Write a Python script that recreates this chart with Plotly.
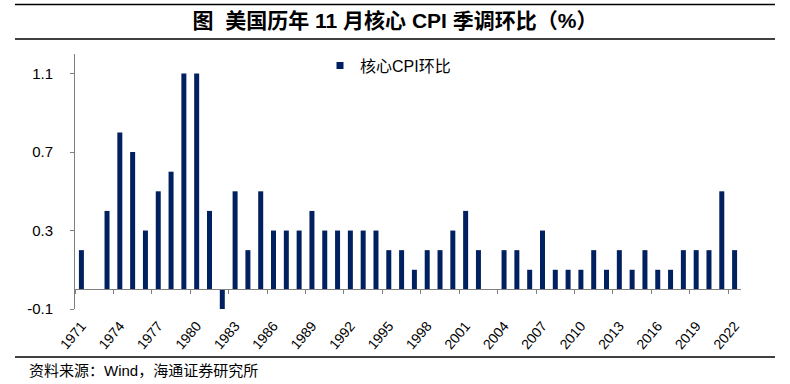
import plotly.graph_objects as go

# ---- data ----
years = list(range(1971, 2023))
core_cpi_mom = [
    0.2, 0.0, 0.4, 0.8, 0.7, 0.3, 0.5, 0.6, 1.1, 1.1,   # 1971-1980
    0.4, -0.1, 0.5, 0.2, 0.5, 0.3, 0.3, 0.3, 0.4, 0.3,  # 1981-1990
    0.3, 0.3, 0.3, 0.3, 0.2, 0.2, 0.1, 0.2, 0.2, 0.3,   # 1991-2000
    0.4, 0.2, 0.0, 0.2, 0.2, 0.1, 0.3, 0.1, 0.1, 0.1,   # 2001-2010
    0.2, 0.1, 0.2, 0.1, 0.2, 0.1, 0.1, 0.2, 0.2, 0.2,   # 2011-2020
    0.5, 0.2,                                           # 2021-2022
]
tick_years = years[::3]
tick_labels = [str(y) for y in tick_years]
y_ticks = [-0.1, 0.3, 0.7, 1.1]
series_name = "核心CPI环比"
title_text = "图\u00a0\u00a0美国历年\u00a011\u00a0月核心\u00a0CPI\u00a0季调环比（%）"
source_text = "资料来源：Wind，海通证券研究所"

# ---- layout geometry ----
W, H = 790, 384
ML, MR, MT, MB = 75, 49, 54, 75
PW, PH = W - ML - MR, H - MT - MB
Y_RANGE = [-0.1, 1.2]

def px_x(x):
    return (x - ML) / PW

def px_y(y):
    return (H - MB - y) / PH

NAVY = "#002060"
GREY = "#808080"
FONT = "Liberation Sans, Arial, Noto Sans CJK SC"

fig = go.Figure()
fig.add_trace(go.Bar(
    x=years, y=core_cpi_mom, name=series_name,
    marker=dict(color=NAVY, line=dict(width=0)),
    width=0.39, showlegend=False,
))
# legend entry (small square)
fig.add_trace(go.Scatter(
    x=[None], y=[None], mode="markers", name=series_name,
    marker=dict(symbol="square", size=7, color=NAVY),
    showlegend=True,
))
# carrier for the zero-crossing axis
fig.add_trace(go.Scatter(x=[], y=[], xaxis="x2", yaxis="y",
                         showlegend=False, hoverinfo="skip"))

zero_pos = (0 - Y_RANGE[0]) / (Y_RANGE[1] - Y_RANGE[0])

fig.update_layout(
    width=W, height=H,
    margin=dict(l=ML, r=MR, t=MT, b=MB, pad=0, autoexpand=False),
    paper_bgcolor="white", plot_bgcolor="white",
    font=dict(family=FONT, color="#000000"),
    title=dict(
        text="<b>" + title_text + "</b>",
        x=0.5, xref="container", xanchor="center",
        y=1 - 21 / H, yref="container", yanchor="middle",
        font=dict(size=21, family=FONT, color="#000"),
        automargin=False,
    ),
    showlegend=True,
    legend=dict(
        x=px_x(320), y=px_y(65.5), xanchor="left", yanchor="middle",
        bgcolor="rgba(0,0,0,0)", borderwidth=0,
        font=dict(size=16, family=FONT, color="#000"),
    ),
    bargap=0.61,
    xaxis=dict(
        range=[years[0] - 0.5, years[-1] + 0.5], automargin=False,
        tickmode="array", tickvals=tick_years, ticktext=tick_labels,
        tickangle=-50, ticks="", showline=False, showgrid=False, zeroline=False,
        tickfont=dict(size=14, family=FONT, color="#000"),
        ticklabelstandoff=5,
    ),
    xaxis2=dict(
        overlaying="x", matches="x", anchor="free", position=zero_pos,
        range=[years[0] - 0.5, years[-1] + 0.5], automargin=False,
        tickmode="array", tickvals=[y - 0.5 for y in tick_years],
        ticks="outside", ticklen=4, tickcolor=GREY, tickwidth=1,
        showticklabels=False, showline=True, linecolor=GREY, linewidth=1,
        showgrid=False, zeroline=False,
    ),
    yaxis=dict(
        range=Y_RANGE, tickmode="array", tickvals=y_ticks, automargin=False,
        ticktext=[f"{v:.1f}" for v in y_ticks],
        showline=True, linecolor=GREY, linewidth=1,
        ticks="outside", ticklen=4, tickcolor=GREY,
        showgrid=False, zeroline=False,
        tickfont=dict(size=15, family=FONT, color="#000"),
        ticklabelstandoff=14,
    ),
    shapes=[
        dict(type="line", xref="paper", yref="paper",
             x0=px_x(15), x1=px_x(775), y0=px_y(4.5), y1=px_y(4.5),
             line=dict(color="black", width=1.5)),
        dict(type="line", xref="paper", yref="paper",
             x0=px_x(15), x1=px_x(775), y0=px_y(39), y1=px_y(39),
             line=dict(color="black", width=1.5)),
        dict(type="line", xref="paper", yref="paper",
             x0=px_x(15), x1=px_x(775), y0=px_y(357), y1=px_y(357),
             line=dict(color="black", width=1.5)),
    ],
    annotations=[
        dict(text=source_text, xref="paper", yref="paper",
             x=px_x(27), y=px_y(370), xanchor="left", yanchor="middle",
             showarrow=False, font=dict(size=15, family=FONT, color="#000")),
    ],
)

fig.write_html(
    "out.html",
    config={"displayModeBar": False},
    post_script="document.body.style.margin='0';document.body.style.overflow='hidden';",
)
